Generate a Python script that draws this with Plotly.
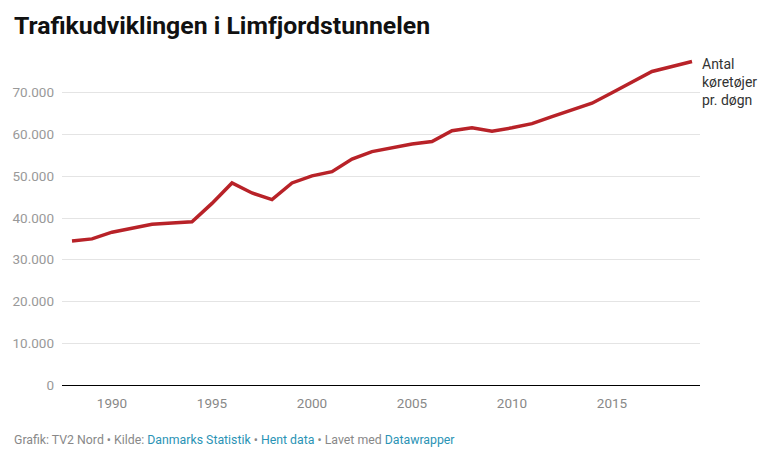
import plotly.graph_objects as go

years = list(range(1988, 2020))
vehicles = [34500, 35000, 36600, 37500, 38500, 38800, 39100, 43500, 48400, 46000,
            44400, 48400, 50100, 51100, 54100, 55900, 56900, 57700, 58300, 60900,
            61600, 60800, 61600, 62600, 64300, 65800, 67500, 70000, 72500, 75100,
            76300, 77500]

y_ticks = [0, 10000, 20000, 30000, 40000, 50000, 60000, 70000]
x_ticks = [1990, 1995, 2000, 2005, 2010, 2015]

title = "Trafikudviklingen i Limfjordstunnelen"
series_label = "Antal<br>køretøjer<br>pr. døgn"
footer = ("Grafik: TV2 Nord • Kilde: <span style='color:#2a93b5'>Danmarks Statistik</span>"
          " • <span style='color:#2a93b5'>Hent data</span> • Lavet med "
          "<span style='color:#2a93b5'>Datawrapper</span>")

L, R, T, B = 62, 70, 51, 75
W, H = 770, 460
PW, PH = W - L - R, H - T - B

fig = go.Figure()
fig.add_trace(go.Scatter(
    x=years, y=vehicles, mode="lines",
    line=dict(color="#b82228", width=3.5),
    hoverinfo="skip", showlegend=False,
))

fig.update_layout(
    width=W, height=H,
    margin=dict(l=L, r=R, t=T, b=B),
    paper_bgcolor="white", plot_bgcolor="white",
    font=dict(family="Roboto", size=13, color="#888"),
    separators=",.",
    showlegend=False,
    xaxis=dict(
        range=[1987.5, 2019.4], tickvals=x_ticks, showgrid=False,
        showline=True, linecolor="#000", linewidth=1,
        ticks="", ticklabelstandoff=6, zeroline=False,
        tickfont=dict(family="Roboto", size=13.5, color="#888"),
        fixedrange=True,
    ),
    yaxis=dict(
        range=[0, 80000], tickvals=y_ticks, tickformat=",d",
        showgrid=True, gridcolor="#e4e4e4", gridwidth=1,
        zeroline=False, showline=False, ticks="",
        ticklabelstandoff=7,
        tickfont=dict(family="Roboto", size=13.5, color="#999"),
        fixedrange=True,
    ),
    annotations=[
        dict(text=f"<b>{title}</b>", xref="paper", yref="paper",
             x=(12 - L) / PW, y=1 + (T - 26) / PH, xanchor="left", yanchor="middle",
             showarrow=False, font=dict(family="Roboto", size=24.8, color="#111")),
        dict(text=series_label, xref="paper", yref="y",
             x=1, y=79400, xanchor="left", yanchor="top", align="left",
             showarrow=False, xshift=0,
             font=dict(family="Roboto", size=14, color="#333")),
        dict(text=footer, xref="paper", yref="paper",
             x=(12 - L) / PW, y=-55 / PH, xanchor="left", yanchor="middle",
             showarrow=False, align="left",
             font=dict(family="Roboto", size=12.3, color="#888")),
    ],
)

fig.write_html(
    "out.html",
    config={"displayModeBar": False},
    post_script="document.body.style.margin='0';document.body.style.overflow='hidden';",
)
